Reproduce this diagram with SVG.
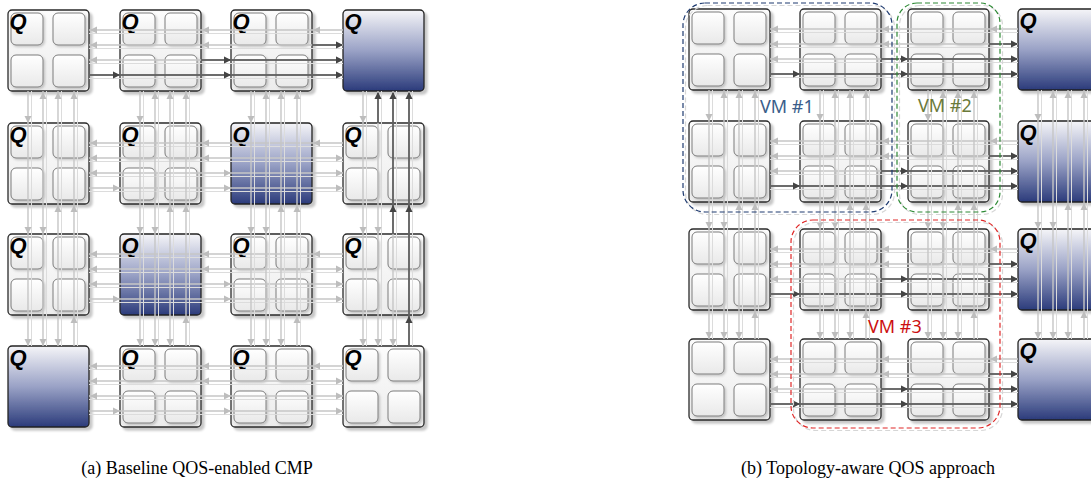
<svg xmlns="http://www.w3.org/2000/svg" xmlns:xlink="http://www.w3.org/1999/xlink" width="1091" height="495" viewBox="0 0 1091 495">
<style>
.lt{stroke:#c6c6c6;stroke-width:1.4;fill:none}
.lc{stroke:#dcdcdc;stroke-width:1;fill:none}
.dk{stroke:#4a4a4a;stroke-width:1.5;fill:none}
.hl{fill:#bdbdbd}
.hd{fill:#444}
.q{font-family:"Liberation Sans",Arial,sans-serif;font-weight:bold;font-style:italic;font-size:22px;fill:#000}
.vm{font-family:"Noto Sans","Open Sans",sans-serif;font-size:18px}
.cap{font-family:"Liberation Serif","Times New Roman",serif;font-size:18px;fill:#000;text-anchor:middle}
.box{fill:none;stroke-width:1.2;stroke-dasharray:5 3}
.boxs{fill:none;stroke:#d6d6d6;stroke-width:1.2;stroke-dasharray:5 3}
</style>
<defs>
<linearGradient id="tg" x1="0" y1="0" x2="0" y2="1"><stop offset="0" stop-color="#fcfcfc"/><stop offset="1" stop-color="#ececec"/></linearGradient>
<linearGradient id="sg" x1="0" y1="0" x2="0" y2="1"><stop offset="0" stop-color="#ffffff"/><stop offset="1" stop-color="#e9e9e9"/></linearGradient>
<linearGradient id="bg" x1="0" y1="0" x2="0" y2="1"><stop offset="0" stop-color="#f5f5f8"/><stop offset="0.5" stop-color="#9aa2c6"/><stop offset="1" stop-color="#2b3b7b"/></linearGradient>
<filter id="sh" x="-10%" y="-10%" width="130%" height="130%"><feDropShadow dx="3" dy="3" stdDeviation="1.3" flood-color="#000" flood-opacity="0.22"/></filter>
<filter id="sh2" x="-10%" y="-10%" width="130%" height="130%"><feDropShadow dx="1.5" dy="1.5" stdDeviation="1" flood-color="#000" flood-opacity="0.2"/></filter>
<path id="aR" d="M-7,-3.5L0,0L-7,3.5z"/>
<path id="aL" d="M7,-3.5L0,0L7,3.5z"/>
<path id="aU" d="M-3.5,7L0,0L3.5,7z"/>
<path id="aD" d="M-3.5,-7L0,0L3.5,-7z"/>
<g id="tile">
<rect width="81" height="81" rx="4" fill="url(#tg)" stroke="#2a2a2a" stroke-width="1.3" filter="url(#sh)"/>
<g fill="url(#sg)" stroke="#7c7c7c" stroke-width="1" filter="url(#sh2)">
<rect x="3" y="3" width="32" height="32" rx="5"/>
<rect x="45" y="3" width="32" height="32" rx="5"/>
<rect x="3" y="45" width="32" height="32" rx="5"/>
<rect x="45" y="45" width="32" height="32" rx="5"/>
</g>
</g>
<rect id="btile" width="81" height="81" rx="4" fill="url(#bg)" stroke="#222" stroke-width="1.3" filter="url(#sh)"/>
<g id="LH">
<path class="lt" d="M89,20H343M89,35H343M89,50H343M89,65H343"/>
<path class="lc" d="M89,23.5H343M89,38.5H343M89,53.5H343M89,68.5H343"/>
<g class="hl">
<use href="#aL" x="90" y="20"/><use href="#aL" x="90" y="35"/><use href="#aL" x="90" y="50"/><use href="#aR" x="120" y="65"/>
<use href="#aL" x="202" y="20"/><use href="#aL" x="202" y="35"/><use href="#aR" x="231" y="50"/><use href="#aR" x="231" y="65"/>
<use href="#aL" x="313" y="20"/><use href="#aR" x="343" y="35"/><use href="#aR" x="343" y="50"/><use href="#aR" x="343" y="65"/>
</g>
</g>
<g id="LV">
<path class="lt" d="M20,91V346M35,91V346M50,91V346M66,91V346"/>
<path class="lc" d="M23.5,91V346M38.5,91V346M53.5,91V346M69.5,91V346"/>
<g class="hl">
<use href="#aD" x="20" y="123"/><use href="#aU" x="35" y="92"/><use href="#aU" x="50" y="92"/><use href="#aU" x="66" y="92"/>
<use href="#aD" x="20" y="234"/><use href="#aD" x="35" y="234"/><use href="#aU" x="50" y="205"/><use href="#aU" x="66" y="205"/>
<use href="#aD" x="20" y="346"/><use href="#aD" x="35" y="346"/><use href="#aD" x="50" y="346"/><use href="#aU" x="66" y="316"/>
</g>
</g>
<g id="RH">
<path class="lt" d="M770,20H1018M770,35H1018M770,50H1018M770,65H1018"/>
<path class="lc" d="M770,23.5H1018M770,38.5H1018M770,53.5H1018M770,68.5H1018"/>
<g class="hl">
<use href="#aL" x="771" y="20"/><use href="#aL" x="771" y="35"/><use href="#aL" x="771" y="50"/><use href="#aR" x="800" y="65"/>
<use href="#aL" x="882" y="20"/><use href="#aL" x="882" y="35"/><use href="#aR" x="908" y="50"/><use href="#aR" x="908" y="65"/>
<use href="#aL" x="990" y="20"/><use href="#aR" x="1018" y="35"/><use href="#aR" x="1018" y="50"/><use href="#aR" x="1018" y="65"/>
</g>
<path class="dk" d="M989,35H1017M881,50H1017M770,65H1017"/>
<g class="hd">
<use href="#aR" x="1018" y="35"/><use href="#aR" x="908" y="50"/><use href="#aR" x="1018" y="50"/>
<use href="#aR" x="800" y="65"/><use href="#aR" x="908" y="65"/><use href="#aR" x="1018" y="65"/>
</g>
</g>
<g id="RV">
<path class="lt" d="M20,90V339M35,90V339M50,90V339M66,90V339"/>
<path class="lc" d="M23.5,90V339M38.5,90V339M53.5,90V339M69.5,90V339"/>
<g class="hl">
<use href="#aD" x="20" y="121"/><use href="#aU" x="35" y="91"/><use href="#aU" x="50" y="91"/><use href="#aU" x="66" y="91"/>
<use href="#aD" x="20" y="229"/><use href="#aD" x="35" y="229"/><use href="#aU" x="50" y="203"/><use href="#aU" x="66" y="203"/>
<use href="#aD" x="20" y="339"/><use href="#aD" x="35" y="339"/><use href="#aD" x="50" y="339"/><use href="#aU" x="66" y="311"/>
</g>
</g>
</defs>
<rect width="1091" height="495" fill="#fff"/>

<g id="panel-a-nodes">
<g id="a11"><use href="#tile" x="8" y="10"/><text class="q" x="9.5" y="28.5">Q</text></g>
<g id="a12"><use href="#tile" x="120" y="10"/><text class="q" x="121.5" y="28.5">Q</text></g>
<g id="a13"><use href="#tile" x="231" y="10"/><text class="q" x="232.5" y="28.5">Q</text></g>
<g id="a14"><use href="#btile" x="343" y="10"/><text class="q" x="344.5" y="28.5">Q</text></g>
<g id="a21"><use href="#tile" x="8" y="123"/><text class="q" x="9.5" y="141.5">Q</text></g>
<g id="a22"><use href="#tile" x="120" y="123"/><text class="q" x="121.5" y="141.5">Q</text></g>
<g id="a23"><use href="#btile" x="231" y="123"/><text class="q" x="232.5" y="141.5">Q</text></g>
<g id="a24"><use href="#tile" x="343" y="123"/><text class="q" x="344.5" y="141.5">Q</text></g>
<g id="a31"><use href="#tile" x="8" y="234"/><text class="q" x="9.5" y="252.5">Q</text></g>
<g id="a32"><use href="#btile" x="120" y="234"/><text class="q" x="121.5" y="252.5">Q</text></g>
<g id="a33"><use href="#tile" x="231" y="234"/><text class="q" x="232.5" y="252.5">Q</text></g>
<g id="a34"><use href="#tile" x="343" y="234"/><text class="q" x="344.5" y="252.5">Q</text></g>
<g id="a41"><use href="#btile" x="8" y="346"/><text class="q" x="9.5" y="364.5">Q</text></g>
<g id="a42"><use href="#tile" x="120" y="346"/><text class="q" x="121.5" y="364.5">Q</text></g>
<g id="a43"><use href="#tile" x="231" y="346"/><text class="q" x="232.5" y="364.5">Q</text></g>
<g id="a44"><use href="#tile" x="343" y="346"/><text class="q" x="344.5" y="364.5">Q</text></g>
</g>

<g id="panel-b-nodes">
<g id="b11"><use href="#tile" x="689" y="9"/></g>
<g id="b12"><use href="#tile" x="800" y="9"/></g>
<g id="b13"><use href="#tile" x="908" y="9"/></g>
<g id="b14"><use href="#btile" x="1018" y="9"/><text class="q" x="1019.5" y="27.5">Q</text></g>
<g id="b21"><use href="#tile" x="689" y="121"/></g>
<g id="b22"><use href="#tile" x="800" y="121"/></g>
<g id="b23"><use href="#tile" x="908" y="121"/></g>
<g id="b24"><use href="#btile" x="1018" y="121"/><text class="q" x="1019.5" y="139.5">Q</text></g>
<g id="b31"><use href="#tile" x="689" y="229"/></g>
<g id="b32"><use href="#tile" x="800" y="229"/></g>
<g id="b33"><use href="#tile" x="908" y="229"/></g>
<g id="b34"><use href="#btile" x="1018" y="229"/><text class="q" x="1019.5" y="247.5">Q</text></g>
<g id="b41"><use href="#tile" x="689" y="339"/></g>
<g id="b42"><use href="#tile" x="800" y="339"/></g>
<g id="b43"><use href="#tile" x="908" y="339"/></g>
<g id="b44"><use href="#btile" x="1018" y="339"/><text class="q" x="1019.5" y="357.5">Q</text></g>
</g>

<g id="connectors">
<use href="#LH" y="10"/><use href="#LH" y="123"/><use href="#LH" y="234"/><use href="#LH" y="346"/>
<use href="#LV" x="8"/><use href="#LV" x="120"/><use href="#LV" x="231"/><use href="#LV" x="343"/>
<path class="dk" d="M312,45H342M201,60H342M89,75H342M378,123V93M393,234V93M409,346V93"/>
<g class="hd">
<use href="#aR" x="343" y="45"/><use href="#aR" x="231" y="60"/><use href="#aR" x="343" y="60"/>
<use href="#aR" x="120" y="75"/><use href="#aR" x="231" y="75"/><use href="#aR" x="343" y="75"/>
<use href="#aU" x="378" y="92"/><use href="#aU" x="393" y="205"/><use href="#aU" x="393" y="92"/>
<use href="#aU" x="409" y="316"/><use href="#aU" x="409" y="205"/><use href="#aU" x="409" y="92"/>
</g>
<use href="#RH" y="9"/><use href="#RH" y="121"/><use href="#RH" y="229"/><use href="#RH" y="339"/>
<use href="#RV" x="689"/><use href="#RV" x="800"/><use href="#RV" x="908"/><use href="#RV" x="1018"/>
</g>

<g id="vm1"><rect class="boxs" x="685.5" y="5.5" width="209" height="209" rx="22"/><rect class="box" stroke="#1f3b70" x="683" y="3" width="209" height="209" rx="22"/><text class="vm" fill="#3b5e8a" x="760" y="113">VM #1</text></g>
<g id="vm2"><rect class="boxs" x="899.5" y="5.5" width="103" height="209" rx="20"/><rect class="box" stroke="#2f8a36" x="897" y="3" width="103" height="209" rx="20"/><text class="vm" fill="#6b7a3a" x="918" y="112">VM #2</text></g>
<g id="vm3"><rect class="boxs" x="793.5" y="222.5" width="209" height="208" rx="22"/><rect class="box" stroke="#e02828" x="791" y="220" width="209" height="208" rx="22"/><text class="vm" fill="#cc1010" x="868" y="333">VM #3</text></g>

<text class="cap" x="197" y="474">(a) Baseline QOS-enabled CMP</text>
<text class="cap" x="868" y="474" font-size="18.5">(b) Topology-aware QOS approach</text>
</svg>
